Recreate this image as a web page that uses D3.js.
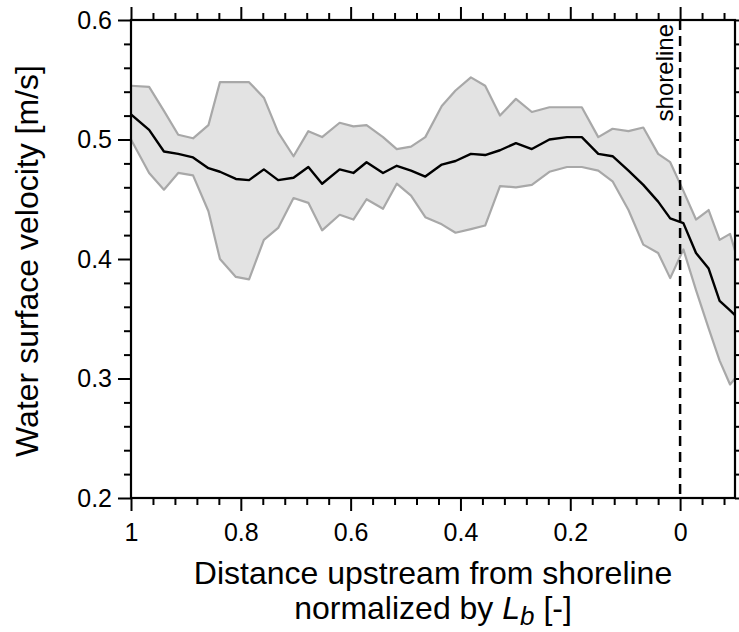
<!DOCTYPE html>
<html>
<head>
<meta charset="utf-8">
<script src="https://cdn.jsdelivr.net/npm/d3@7"></script>
<style>
  html, body { margin: 0; padding: 0; background: #fff; }
  svg { display: block; font-family: 'Liberation Sans', Arial, Helvetica, sans-serif; }
  .axis path.domain { display: none; }
  .axis line { stroke: #000; stroke-width: 2; }
  .axis text { font-size: 25px; fill: #000; }
</style>
</head>
<body>
<svg id="chart" width="739" height="632"></svg>
<script>
// distance upstream from shoreline, normalized by Lb
const distance = [1.000, 0.967, 0.940, 0.914, 0.887, 0.859, 0.838, 0.809, 0.785, 0.758,
  0.732, 0.704, 0.677, 0.652, 0.620, 0.595, 0.571, 0.541, 0.516, 0.490,
  0.464, 0.434, 0.409, 0.381, 0.355, 0.328, 0.299, 0.270, 0.238, 0.206,
  0.179, 0.149, 0.123, 0.094, 0.067, 0.040, 0.018, -0.006, -0.029, -0.052,
  -0.072, -0.091, -0.100];

// mean water surface velocity [m/s]
const meanVelocity = [0.521, 0.508, 0.490, 0.488, 0.485, 0.476, 0.473, 0.467, 0.466, 0.475,
  0.466, 0.468, 0.477, 0.463, 0.475, 0.472, 0.481, 0.472, 0.478, 0.474,
  0.469, 0.479, 0.482, 0.488, 0.487, 0.491, 0.497, 0.492, 0.500, 0.502,
  0.502, 0.488, 0.486, 0.474, 0.462, 0.448, 0.434, 0.430, 0.405, 0.392,
  0.365, 0.357, 0.353];

// upper edge of the grey band
const upperVelocity = [0.545, 0.544, 0.524, 0.504, 0.501, 0.512, 0.548, 0.548, 0.548, 0.535,
  0.506, 0.486, 0.507, 0.502, 0.514, 0.511, 0.512, 0.502, 0.492, 0.494,
  0.502, 0.528, 0.541, 0.552, 0.545, 0.520, 0.534, 0.523, 0.527, 0.527,
  0.527, 0.502, 0.509, 0.507, 0.510, 0.488, 0.481, 0.457, 0.433, 0.441,
  0.416, 0.421, 0.407];

// lower edge of the grey band
const lowerVelocity = [0.500, 0.472, 0.458, 0.472, 0.470, 0.440, 0.400, 0.385, 0.383, 0.416,
  0.426, 0.451, 0.447, 0.424, 0.437, 0.433, 0.450, 0.442, 0.463, 0.453,
  0.435, 0.429, 0.422, 0.425, 0.428, 0.461, 0.460, 0.462, 0.473, 0.477,
  0.477, 0.474, 0.465, 0.441, 0.412, 0.405, 0.384, 0.408, 0.374, 0.342,
  0.315, 0.295, 0.300];

const xTicks = [1, 0.8, 0.6, 0.4, 0.2, 0];
const yTicks = [0.2, 0.3, 0.4, 0.5, 0.6];
const shorelineX = 0;

const data = distance.map((d, i) => ({
  x: d, mean: meanVelocity[i], hi: upperVelocity[i], lo: lowerVelocity[i]
}));

const svg = d3.select('svg#chart');
const margin = {top: 20, right: 4, bottom: 134, left: 131};
const width = +svg.attr('width') - margin.left - margin.right;
const height = +svg.attr('height') - margin.top - margin.bottom;
const g = svg.append('g').attr('transform', `translate(${margin.left},${margin.top})`);

const x = d3.scaleLinear().domain([1, -0.1]).range([0, width]);
const y = d3.scaleLinear().domain([0.2, 0.6]).range([height, 0]);

const xMinor = d3.range(-0.08, 1.001, 0.04).filter(v => !xTicks.some(t => Math.abs(t - v) < 1e-6));
const yMinor = d3.range(0.22, 0.6, 0.02).filter(v => !yTicks.some(t => Math.abs(t - v) < 1e-6));

g.append('clipPath').attr('id', 'clip')
  .append('rect').attr('width', width).attr('height', height);

const plot = g.append('g').attr('clip-path', 'url(#clip)');

const area = d3.area()
  .x(d => x(d.x))
  .y0(d => y(d.lo))
  .y1(d => y(d.hi));

plot.append('path')
  .datum(data)
  .attr('fill', '#e3e3e3')
  .attr('d', area);

['hi', 'lo'].forEach(k => {
  plot.append('path')
    .datum(data)
    .attr('fill', 'none')
    .attr('stroke', '#a8a8a8')
    .attr('stroke-width', 2.2)
    .attr('stroke-linejoin', 'round')
    .attr('d', d3.line().x(d => x(d.x)).y(d => y(d[k])));
});

plot.append('line')
  .attr('x1', x(shorelineX)).attr('x2', x(shorelineX))
  .attr('y1', 0).attr('y2', height)
  .attr('stroke', '#000')
  .attr('stroke-width', 2.5)
  .attr('stroke-dasharray', '10,6');

plot.append('path')
  .datum(data)
  .attr('fill', 'none')
  .attr('stroke', '#000')
  .attr('stroke-width', 2.4)
  .attr('stroke-linejoin', 'round')
  .attr('d', d3.line().x(d => x(d.x)).y(d => y(d.mean)));

g.append('text')
  .attr('transform', `translate(${x(shorelineX) - 7},4) rotate(-90)`)
  .attr('text-anchor', 'end')
  .attr('font-size', 24)
  .text('shoreline');

// axes: major + minor ticks outward on all four sides
const fmtX = d => (d === 1 || d === 0) ? String(d) : d.toFixed(1);

g.append('g').attr('class', 'axis')
  .attr('transform', `translate(0,${height})`)
  .call(d3.axisBottom(x).tickValues(xTicks).tickFormat(fmtX).tickSize(13).tickPadding(12));
g.append('g').attr('class', 'axis')
  .attr('transform', `translate(0,${height})`)
  .call(d3.axisBottom(x).tickValues(xMinor).tickFormat('').tickSize(7));

g.append('g').attr('class', 'axis')
  .call(d3.axisTop(x).tickValues(xTicks).tickFormat('').tickSize(13));
g.append('g').attr('class', 'axis')
  .call(d3.axisTop(x).tickValues(xMinor).tickFormat('').tickSize(7));

g.append('g').attr('class', 'axis')
  .call(d3.axisLeft(y).tickValues(yTicks).tickFormat(d3.format('.1f')).tickSize(13).tickPadding(6));
g.append('g').attr('class', 'axis')
  .call(d3.axisLeft(y).tickValues(yMinor).tickFormat('').tickSize(7));

g.append('g').attr('class', 'axis')
  .attr('transform', `translate(${width},0)`)
  .call(d3.axisRight(y).tickValues(yTicks).tickFormat('').tickSize(13));
g.append('g').attr('class', 'axis')
  .attr('transform', `translate(${width},0)`)
  .call(d3.axisRight(y).tickValues(yMinor).tickFormat('').tickSize(7));

g.append('rect')
  .attr('width', width).attr('height', height)
  .attr('fill', 'none')
  .attr('stroke', '#000')
  .attr('stroke-width', 2.2);

// axis titles
svg.append('text')
  .attr('transform', `translate(38,${margin.top + height / 2 + 2}) rotate(-90)`)
  .attr('text-anchor', 'middle')
  .attr('font-size', 32)
  .text('Water surface velocity [m/s]');

const cx = margin.left + width / 2;
svg.append('text')
  .attr('x', cx).attr('y', 584)
  .attr('text-anchor', 'middle')
  .attr('font-size', 32)
  .text('Distance upstream from shoreline');

const t2 = svg.append('text')
  .attr('x', cx).attr('y', 619)
  .attr('text-anchor', 'middle')
  .attr('font-size', 32);
t2.append('tspan').text('normalized by ');
t2.append('tspan').attr('font-style', 'italic').text('L');
t2.append('tspan').attr('font-style', 'italic').attr('font-size', 26).attr('dy', 6).text('b');
t2.append('tspan').attr('dy', -6).text(' [-]');
</script>
</body>
</html>
